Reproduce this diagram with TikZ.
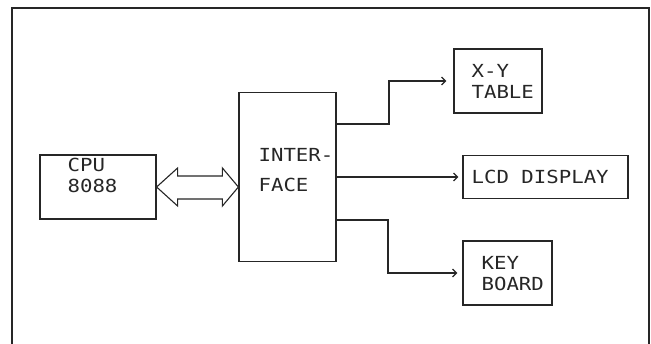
\documentclass[tikz,border=0pt]{standalone}
\usepackage{fontspec}
\setmonofont[FakeStretch=1.15]{DejaVu Sans Mono}
\usepackage{tikz}
\usetikzlibrary{arrows.meta,calc,positioning}
\definecolor{inkgray}{HTML}{262626}
\tikzset{
  block/.style={draw=inkgray,line width=1.2pt,rectangle,inner sep=0pt},
  lbl/.style={inner sep=0pt,align=left,text=inkgray,font=\ttfamily\fontsize{18}{21}\selectfont},
  link/.style={draw=inkgray,line width=1.2pt,-{Straight Barb[length=4pt,width=8pt]},shorten >=5pt},
  bus/.style={draw=inkgray,line width=1.1pt,fill=white,line join=miter}
}

\begin{document}
\begin{tikzpicture}[x=1pt,y=-1pt]
  \useasboundingbox (0,0) rectangle (651,343);
  % outer frame
  \draw[inkgray,line width=1.4pt] (12,346) -- (12,8) -- (649,8) -- (649,346);
  % blocks
  \node[block,minimum width=116pt,minimum height=64pt,
        label={[lbl,anchor=north west,xshift=28pt,yshift=-4pt]north west:{CPU\\8088}}] (cpu) at (98,187) {};
  \node[block,minimum width=97pt,minimum height=169pt,
        label={[lbl,anchor=north west,xshift=20pt,yshift=-56pt,font=\ttfamily\fontsize{18}{30}\selectfont]north west:{INTER-\\FACE}}] (iface) at (287.5,177) {};
  \node[block,minimum width=88pt,minimum height=64pt,
        label={[lbl,anchor=north west,xshift=18pt,yshift=-16pt]north west:{X-Y\\TABLE}}] (xy) at (498,81) {};
  \node[block,minimum width=165pt,minimum height=43pt,
        label={[lbl,anchor=north west,xshift=9pt,yshift=-15pt]north west:{LCD DISPLAY}}] (lcd) at (545.5,177) {};
  \node[block,minimum width=89pt,minimum height=64pt,
        label={[lbl,anchor=north west,xshift=19pt,yshift=-16pt]north west:{KEY\\BOARD}}] (kb) at (507.5,273) {};
  % turning points
  \coordinate (xyturn) at (389,0);
  \coordinate (kbturn) at (388,0);
  % bus between cpu and interface
  \coordinate (bl) at (cpu.east);
  \coordinate (br) at (iface.west |- cpu.east);
  \draw[bus] (bl) -- ($(bl)+(21,-19)$) -- ($(bl)+(21,-11)$) -- ($(br)+(-16,-11)$)
    -- ($(br)+(-16,-19)$) -- (br) -- ($(br)+(-16,19)$) -- ($(br)+(-16,12)$)
    -- ($(bl)+(21,12)$) -- ($(bl)+(21,19)$) -- cycle;
  % outputs
  \draw[link,shorten >=7pt] ([yshift=53pt]iface.east) -| (xyturn |- xy.west) -- (xy.west);
  \draw[link,shorten >=4pt] (iface.east) -- (lcd.west);
  \draw[link,shorten >=5pt] ([yshift=-43pt]iface.east) -| (kbturn |- kb.west) -- (kb.west);
\end{tikzpicture}
\end{document}
